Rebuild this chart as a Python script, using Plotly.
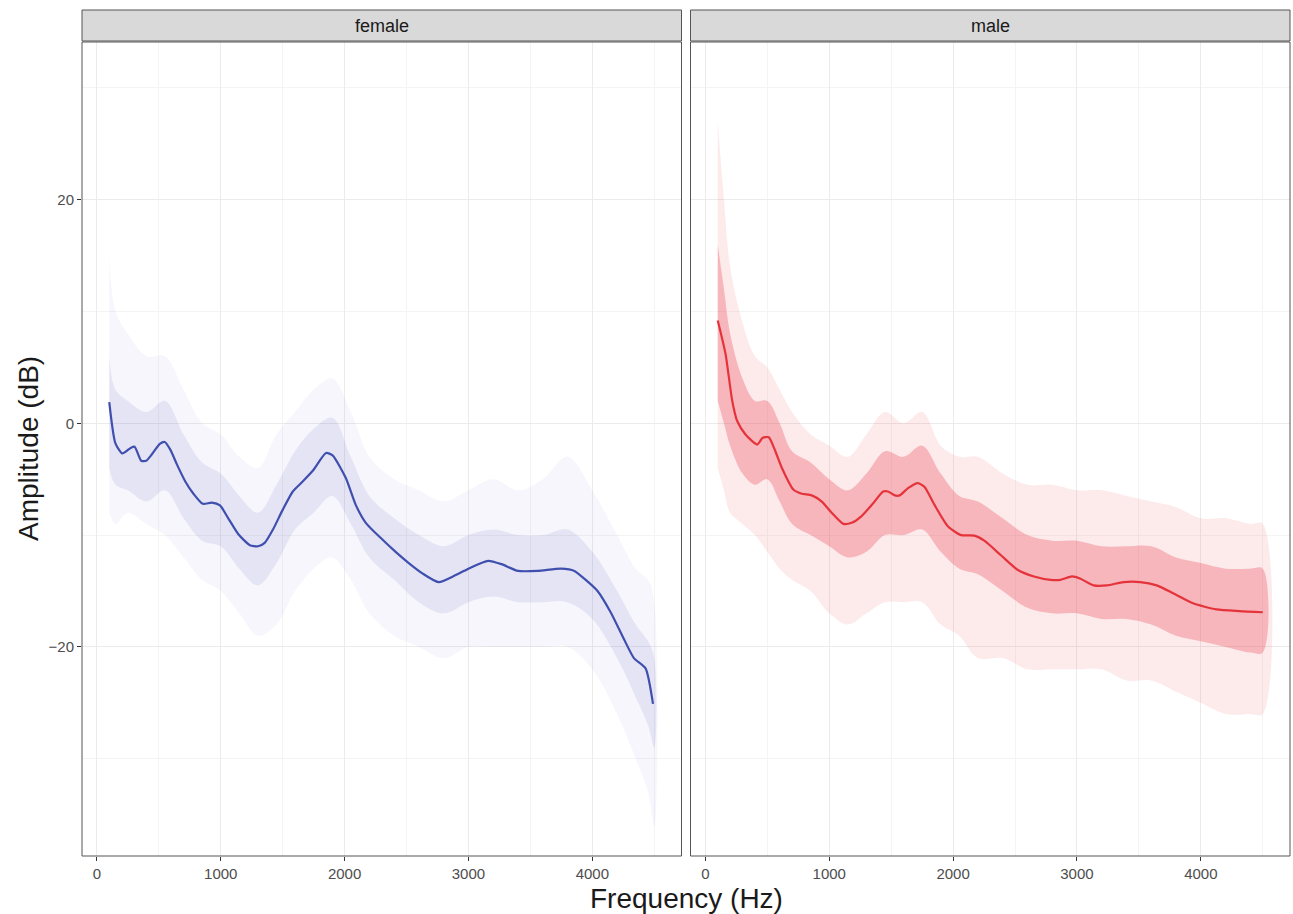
import plotly.graph_objects as go

# ---------------- data ----------------
# Female mean spectrum
female_freq = [100, 150, 206, 273, 305, 358, 398, 446, 508, 548, 593, 647, 714, 780, 855, 928, 994,
               1061, 1141, 1235, 1302, 1355, 1422, 1502, 1582, 1649, 1743, 1850, 1903, 2010, 2090,
               2171, 2305, 2412, 2518, 2625, 2759, 2893, 3000, 3080, 3160, 3266, 3400, 3560, 3747,
               3855, 3935, 4042, 4148, 4255, 4336, 4429, 4490]
female_mean = [1.9, -1.8, -2.7, -2.2, -2.1, -3.35, -3.35, -2.75, -1.85, -1.67, -2.36, -3.7, -5.2,
               -6.3, -7.2, -7.1, -7.35, -8.5, -9.9, -10.9, -11.0, -10.7, -9.5, -7.7, -6.1, -5.35,
               -4.25, -2.66, -2.87, -4.9, -7.3, -8.9, -10.4, -11.5, -12.5, -13.4, -14.2, -13.6,
               -13.0, -12.6, -12.3, -12.6, -13.2, -13.2, -13.0, -13.2, -13.9, -15.0, -16.9, -19.3,
               -21.0, -21.9, -25.1]

# Female cloud of individual spectra (outer and dense envelopes)
female_env_freq = [100, 150, 250, 400, 550, 700, 850, 1000, 1150, 1300, 1450, 1600, 1750, 1900,
                   2050, 2200, 2400, 2600, 2800, 3000, 3200, 3400, 3600, 3800, 4000, 4200, 4350,
                   4450, 4500]
female_outer_hi = [15, 10, 8, 6, 6, 3, 0, -1, -3, -4, -1, 1, 3, 4, 1, -3, -5, -6, -7, -6, -5, -6,
                   -5, -3, -6, -10, -13, -14, -16]
female_outer_lo = [-8, -9, -8, -9, -10, -12, -14, -15, -17, -19, -18, -15, -13, -12, -14, -17, -19,
                   -20, -21, -20, -20, -20, -20, -20, -22, -26, -30, -33, -36]
female_inner_hi = [6, 3, 2, 1, 2, -1, -3.5, -4.5, -6.5, -8, -5.5, -2.5, -0.5, 0.5, -3, -6.5, -8.5,
                   -10, -11, -10, -9.5, -10, -10, -9.5, -11.5, -15, -18, -19.5, -21]
female_inner_lo = [-4, -5.5, -6, -7, -6, -8.5, -10.5, -11, -13, -14.5, -12.5, -9.5, -8, -6.5, -9,
                   -12, -14, -16, -17, -16, -15.5, -16, -16, -16, -17.5, -21, -24.5, -27, -29]

# Male mean spectrum
male_freq = [100, 163, 217, 257, 324, 418, 463, 512, 565, 618, 712, 779, 859, 940, 1020, 1114,
             1181, 1261, 1355, 1435, 1475, 1529, 1569, 1636, 1716, 1770, 1850, 1957, 2064, 2171,
             2252, 2386, 2520, 2653, 2787, 2867, 2961, 3028, 3135, 3242, 3376, 3510, 3644, 3777,
             3938, 4126, 4313, 4500]
male_mean = [9.2, 6.2, 2.0, 0.2, -1.0, -1.9, -1.3, -1.25, -2.5, -4.0, -5.95, -6.3, -6.45, -7.0,
             -8.0, -9.0, -8.9, -8.3, -7.15, -6.1, -6.1, -6.45, -6.45, -5.8, -5.35, -5.7, -7.3,
             -9.2, -10.0, -10.05, -10.5, -11.8, -13.1, -13.7, -14.0, -14.0, -13.7, -13.9, -14.5,
             -14.5, -14.2, -14.2, -14.5, -15.2, -16.1, -16.65, -16.8, -16.9]

# Male cloud of individual spectra (outer and dense envelopes)
male_env_freq = [100, 150, 200, 300, 400, 500, 600, 700, 850, 1000, 1150, 1300, 1450, 1600, 1750,
                 1900, 2050, 2200, 2400, 2600, 2800, 3000, 3200, 3400, 3600, 3800, 4000, 4200,
                 4400, 4500]
male_outer_hi = [27, 20, 14, 9, 6, 5, 3, 1, -1, -2, -3, -1, 1, 0, 1, -2, -3, -3, -4.5, -5.5, -5.5,
                 -6, -6, -6.5, -7, -7.5, -8.5, -8.5, -9, -9]
male_outer_lo = [-4, -6, -8, -9, -10, -11.5, -13, -14, -15, -17, -18, -17, -16, -16, -16, -18, -19,
                 -21, -21, -22, -22, -22, -22, -23, -23, -24, -25, -26, -26, -26]
male_inner_hi = [16, 12, 8, 4, 2, 2, 0, -2.5, -3.5, -5, -6, -4.5, -2.5, -3, -2, -4.5, -6.5, -7,
                 -8.5, -10, -10.5, -10.5, -11, -11, -11, -12, -12.5, -13, -13, -13]
male_inner_lo = [2, 0, -2, -4.5, -5.5, -5, -7, -9, -10, -11, -12, -11.5, -10, -10, -9.5, -11.5,
                 -13, -13.5, -15, -16.5, -17, -17, -17.5, -17.5, -18, -19, -19.5, -20, -20.5, -20.5]

panel_labels = ["female", "male"]
x_ticks = [0, 1000, 2000, 3000, 4000]
y_ticks = [-20, 0, 20]

# ---------------- styling ----------------
W, H = 1293, 914
ML, MR, MT, MB = 82, 3, 42, 58
PW = W - ML - MR
PH = H - MT - MB
GAP = 9
panel_w = (PW - GAP) / 2
x_dom1 = [0, panel_w / PW]
x_dom2 = [(panel_w + GAP) / PW, 1]
FONT = "Liberation Sans, Arial, sans-serif"

FEMALE_LINE = "#3F4FAE"
FEMALE_CLOUD = "110,98,200"
MALE_LINE = "#E5333B"
MALE_CLOUD = "236,64,76"

fig = go.Figure()


def band(freq, hi, lo, rgb, alpha, xa, ya):
    fig.add_trace(go.Scatter(
        x=list(freq) + list(freq)[::-1],
        y=list(hi) + list(lo)[::-1],
        fill="toself", fillcolor=f"rgba({rgb},{alpha})",
        line=dict(width=0), mode="lines", hoverinfo="skip",
        showlegend=False, xaxis=xa, yaxis=ya, line_shape="spline"))


# female panel
band(female_env_freq, female_outer_hi, female_outer_lo, FEMALE_CLOUD, 0.06, "x", "y")
band(female_env_freq, female_inner_hi, female_inner_lo, FEMALE_CLOUD, 0.12, "x", "y")
fig.add_trace(go.Scatter(x=female_freq, y=female_mean, mode="lines",
                         line=dict(color=FEMALE_LINE, width=2.2, shape="spline", smoothing=0.6),
                         showlegend=False, xaxis="x", yaxis="y"))
# male panel
band(male_env_freq, male_outer_hi, male_outer_lo, MALE_CLOUD, 0.11, "x2", "y2")
band(male_env_freq, male_inner_hi, male_inner_lo, MALE_CLOUD, 0.30, "x2", "y2")
fig.add_trace(go.Scatter(x=male_freq, y=male_mean, mode="lines",
                         line=dict(color=MALE_LINE, width=2.2, shape="spline", smoothing=0.6),
                         showlegend=False, xaxis="x2", yaxis="y2"))

x_range = [-120, 4720]
y_range = [-38.7, 34.1]

common_x = dict(range=x_range, tickvals=x_ticks, ticks="outside", ticklen=4, tickcolor="#333333",
                tickfont=dict(family=FONT, size=15, color="#4D4D4D"), showgrid=True,
                gridcolor="#EBEBEB", gridwidth=1, zeroline=False, showline=False,
                minor=dict(tickvals=[500, 1500, 2500, 3500, 4500], showgrid=True,
                           gridcolor="#F4F4F4", gridwidth=0.6, ticks=""))
common_y = dict(range=y_range, tickvals=y_ticks, ticklen=4, tickcolor="#333333",
                tickfont=dict(family=FONT, size=15, color="#4D4D4D"), showgrid=True,
                gridcolor="#EBEBEB", gridwidth=1, zeroline=False, showline=False,
                minor=dict(tickvals=[-30, -10, 10, 30], showgrid=True,
                           gridcolor="#F4F4F4", gridwidth=0.6, ticks=""))

fig.update_layout(
    width=W, height=H,
    margin=dict(l=ML, r=MR, t=MT, b=MB),
    paper_bgcolor="white", plot_bgcolor="white",
    xaxis=dict(domain=x_dom1, anchor="y", **common_x),
    xaxis2=dict(domain=x_dom2, anchor="y2", **common_x),
    yaxis=dict(domain=[0, 1], anchor="x", ticks="outside", **common_y),
    yaxis2=dict(domain=[0, 1], anchor="x2", showticklabels=False, ticks="", **common_y),
    font=dict(family=FONT),
)

strip_h = 32 / PH
shapes = []
annotations = []
for i, (xa, ya) in enumerate([("x", "y"), ("x2", "y2")]):
    shapes.append(dict(type="rect", xref=f"{xa} domain", yref="paper", x0=0, x1=1,
                       y0=1 + 1 / PH, y1=1 + strip_h, fillcolor="#D9D9D9",
                       line=dict(color="#555555", width=1), layer="above"))
    shapes.append(dict(type="rect", xref=f"{xa} domain", yref=f"{ya} domain", x0=0, x1=1,
                       y0=0, y1=1, fillcolor="rgba(0,0,0,0)",
                       line=dict(color="#555555", width=1), layer="above"))
    annotations.append(dict(text=panel_labels[i], xref=f"{xa} domain", yref="paper", x=0.5,
                            y=1 + strip_h / 2 + 0.5 / PH, showarrow=False,
                            font=dict(family=FONT, size=18, color="#1A1A1A"),
                            xanchor="center", yanchor="middle"))

annotations.append(dict(text="Frequency (Hz)", xref="paper", yref="paper", x=0.5, y=-42 / PH,
                        showarrow=False, xanchor="center", yanchor="middle",
                        font=dict(family=FONT, size=28, color="#1A1A1A")))
annotations.append(dict(text="Amplitude (dB)", xref="paper", yref="paper", x=-54 / PW, y=0.5,
                        showarrow=False, xanchor="center", yanchor="middle", textangle=-90,
                        font=dict(family=FONT, size=28, color="#1A1A1A")))

fig.update_layout(shapes=shapes, annotations=annotations)
fig.write_html("out.html", config={"displayModeBar": False},
               post_script="document.body.style.margin='0';document.body.style.overflow='hidden';")
